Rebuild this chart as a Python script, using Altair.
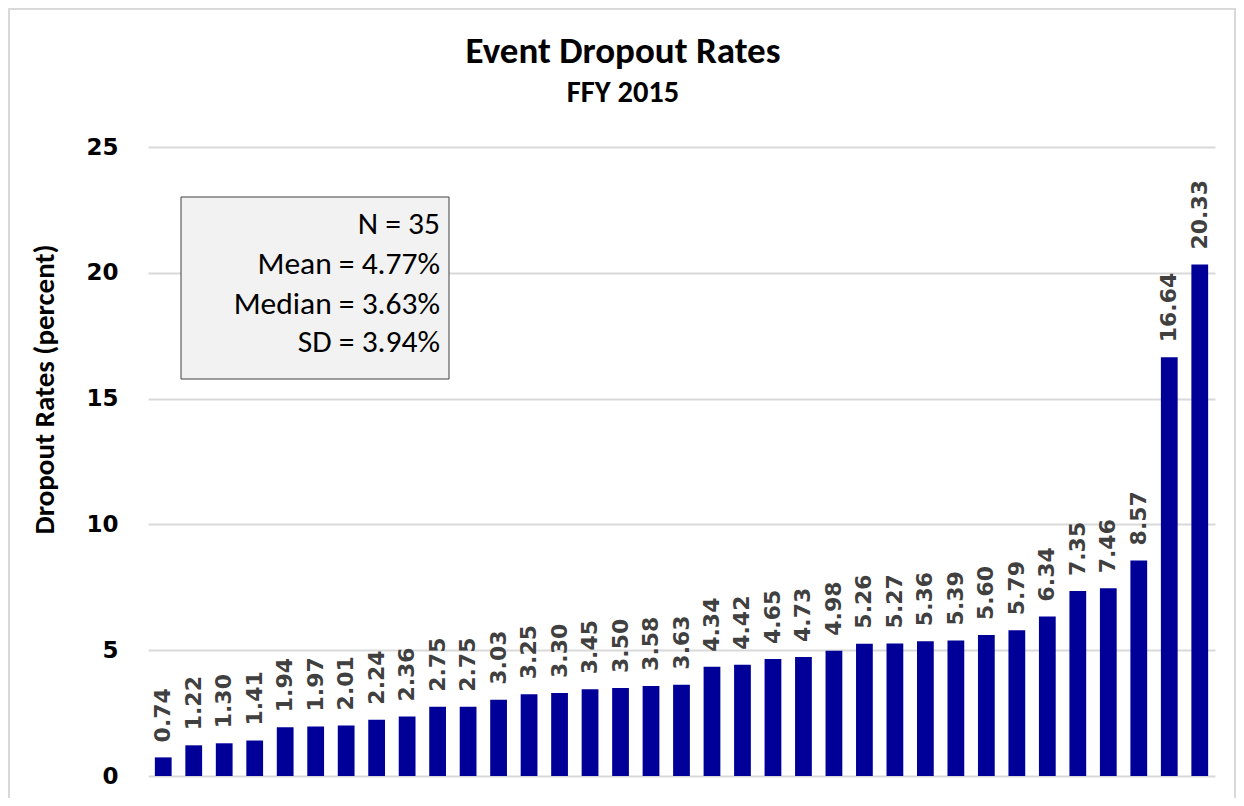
import altair as alt
import pandas as pd

rates = [0.74, 1.22, 1.30, 1.41, 1.94, 1.97, 2.01, 2.24, 2.36, 2.75, 2.75, 3.03,
         3.25, 3.30, 3.45, 3.50, 3.58, 3.63, 4.34, 4.42, 4.65, 4.73, 4.98, 5.26,
         5.27, 5.36, 5.39, 5.60, 5.79, 6.34, 7.35, 7.46, 8.57, 16.64, 20.33]
positions = list(range(1, len(rates) + 1))

title_text = "Event Dropout Rates"
subtitle_text = "FFY 2015"
y_title = "Dropout Rates (percent)"
stats_lines = ["N = 35", "Mean = 4.77%", "Median = 3.63%", "SD = 3.94%"]
y_ticks = [0, 5, 10, 15, 20, 25]

df = pd.DataFrame({"pos": positions, "rate": rates})

W, H = 1067, 629
TITLE_FONT = "Carlito, Lato, Noto Sans, sans-serif"
NUM_FONT = "DejaVu Sans, Verdana, sans-serif"

x_enc = alt.X("pos:O", axis=None,
              scale=alt.Scale(paddingInner=0.45, paddingOuter=0.225))
y_enc = alt.Y("rate:Q",
              scale=alt.Scale(domain=[0, 25], nice=False),
              axis=alt.Axis(values=y_ticks, title=y_title, grid=True,
                            gridColor="#d9d9d9", gridWidth=2,
                            domain=False, ticks=False, labelPadding=30,
                            labelFont=NUM_FONT, labelFontWeight="bold",
                            labelFontSize=23, labelColor="#000000",
                            titleFont=TITLE_FONT, titleFontWeight="bold",
                            titleFontSize=29, titleColor="#000000",
                            titleX=-104, titleY=242, titleAngle=270,
                            titleAlign="center", titleBaseline="middle"))

bars = alt.Chart(df).mark_bar(color="#000099").encode(x=x_enc, y=y_enc)

labels = alt.Chart(df).mark_text(
    angle=270, align="left", baseline="middle", dx=15,
    font=NUM_FONT, fontWeight="bold", fontSize=22, color="#404040"
).encode(x=x_enc, y=alt.Y("rate:Q"), text=alt.Text("rate:Q", format=".2f"))

one = pd.DataFrame({"k": [0]})

border = alt.Chart(one).mark_rect(
    filled=False, stroke="#d9d9d9", strokeWidth=2
).encode(x=alt.value(-139), x2=alt.value(1087), y=alt.value(-138), y2=alt.value(720))

box = alt.Chart(one).mark_rect(
    fill="#f2f2f2", stroke="#404040", strokeWidth=1
).encode(x=alt.value(33), x2=alt.value(301), y=alt.value(50), y2=alt.value(232))

stats_df = pd.DataFrame({"line": stats_lines, "ypix": [78, 118, 158, 196]})
stats = alt.Chart(stats_df).mark_text(
    align="right", baseline="middle", font=TITLE_FONT, fontSize=31.5, color="#000000"
).encode(x=alt.value(292), y=alt.Y("ypix:Q", scale=None), text="line:N")

title_df = pd.DataFrame({"t": [title_text]})
title = alt.Chart(title_df).mark_text(
    align="center", baseline="alphabetic", font=TITLE_FONT, fontWeight="bold",
    fontSize=37, color="#000000"
).encode(x=alt.value(475), y=alt.value(-84), text="t:N")

sub_df = pd.DataFrame({"t": [subtitle_text]})
subtitle = alt.Chart(sub_df).mark_text(
    align="center", baseline="alphabetic", font=TITLE_FONT, fontWeight="bold",
    fontSize=30.5, color="#000000"
).encode(x=alt.value(475), y=alt.value(-45), text="t:N")

chart = alt.layer(border, bars, labels, box, stats, title, subtitle).properties(
    width=W, height=H,
    autosize=alt.AutoSizeParams(type="none"),
    padding={"left": 140, "top": 139, "right": 21, "bottom": 22},
    background="#ffffff",
).configure_view(stroke=None)

chart.save("out.html", embed_options={"renderer": "svg", "actions": False})
